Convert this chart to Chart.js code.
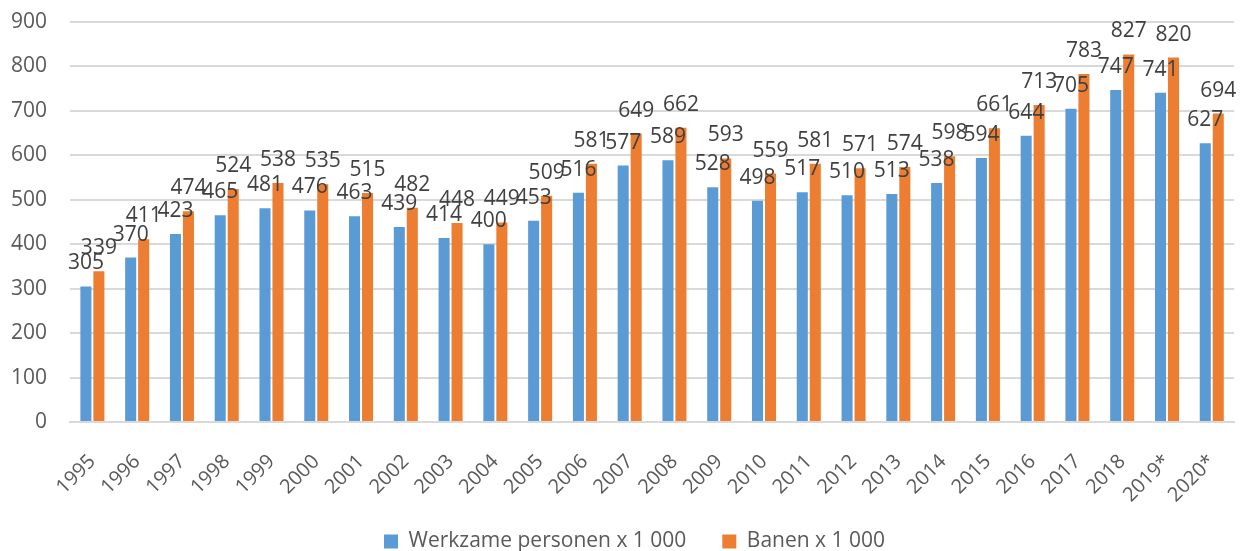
<!DOCTYPE html>
<html>
<head>
<meta charset="utf-8">
<script src="https://cdn.jsdelivr.net/npm/chart.js@4/dist/chart.umd.min.js"></script>
<style>
  html, body { margin: 0; padding: 0; background: #fff; }
  #wrap { width: 1249px; height: 551px; }
</style>
</head>
<body>
<div id="wrap"><canvas id="myChart" width="1249" height="551"></canvas></div>
<script>
const years = ["1995", "1996", "1997", "1998", "1999", "2000", "2001", "2002", "2003", "2004", "2005", "2006", "2007",
  "2008", "2009", "2010", "2011", "2012", "2013", "2014", "2015", "2016", "2017", "2018", "2019*", "2020*"];
const werkzame = [305, 370, 423, 465, 481, 476, 463, 439, 414, 400, 453, 516, 577, 589, 528, 498, 517, 510, 513, 538, 594, 644, 705, 747, 741, 627];
const banen = [339, 411, 474, 524, 538, 535, 515, 482, 448, 449, 509, 581, 649, 662, 593, 559, 581, 571, 574, 598, 661, 713, 783, 827, 820, 694];
const yTicks = [0, 100, 200, 300, 400, 500, 600, 700, 800, 900];

const FONT = "'Open Sans', 'DejaVu Sans', sans-serif";

// labels above each bar, Excel style
const barLabels = {
  id: "barLabels",
  afterDatasetsDraw(chart) {
    const ctx = chart.ctx;
    ctx.save();
    ctx.font = "21px " + FONT;
    ctx.fillStyle = "#404040";
    ctx.textAlign = "center";
    ctx.textBaseline = "alphabetic";
    chart.data.datasets.forEach((ds, i) => {
      chart.getDatasetMeta(i).data.forEach((bar, j) => {
        ctx.fillText(ds.data[j], bar.x, bar.y - 17);
      });
    });
    ctx.restore();
  }
};

// nudge the legend a bit (the original sits slightly right and higher)
const legendNudge = {
  id: "legendNudge",
  afterLayout(chart) {
    const lg = chart.legend;
    lg.left += 17; lg.right += 17;
    lg.top -= 7; lg.bottom -= 7;
  }
};

new Chart(document.getElementById("myChart").getContext("2d"), {
  type: "bar",
  data: {
    labels: years,
    datasets: [
      { label: "Werkzame personen x 1 000", data: werkzame, backgroundColor: "#5B9BD5" },
      { label: "Banen x 1 000", data: banen, backgroundColor: "#ED7D31" }
    ]
  },
  options: {
    responsive: false,
    animation: false,
    categoryPercentage: 0.58,
    barPercentage: 0.85,
    layout: { padding: { top: 22, right: 14, left: 0, bottom: -18 } },
    plugins: {
      legend: {
        position: "bottom",
        labels: {
          font: { family: FONT, size: 21 },
          color: "#595959",
          boxWidth: 14,
          boxHeight: 14,
          padding: 36
        }
      },
      tooltip: { enabled: false }
    },
    scales: {
      x: {
        grid: { display: false },
        border: { color: "#d9d9d9", width: 2 },
        ticks: {
          font: { family: FONT, size: 20 },
          color: "#595959",
          maxRotation: 45,
          minRotation: 45,
          padding: 20
        },
        afterFit: (s) => { s.height = 80; }
      },
      y: {
        min: 0,
        max: 900,
        afterBuildTicks: (s) => { s.ticks = yTicks.map(v => ({ value: v })); },
        grid: { color: "#d9d9d9", lineWidth: 2, drawTicks: true, tickLength: 23, tickColor: "rgba(0,0,0,0)" },
        border: { display: false },
        ticks: {
          font: { family: FONT, size: 21 },
          color: "#595959",
          padding: 0
        },
        afterFit: (s) => { s.width = 70; }
      }
    }
  },
  plugins: [barLabels, legendNudge]
});
</script>
</body>
</html>
